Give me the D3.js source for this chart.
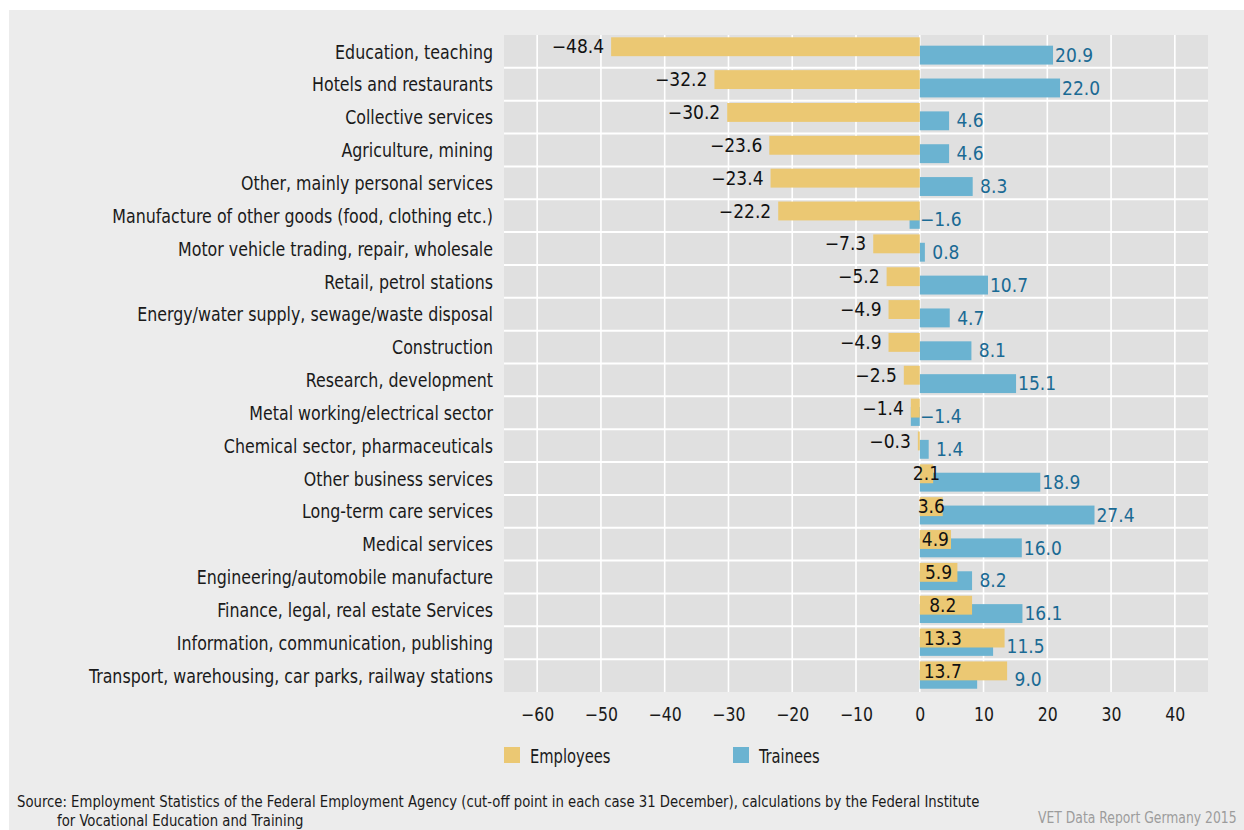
<!DOCTYPE html>
<html>
<head>
<meta charset="utf-8">
<script src="https://cdn.jsdelivr.net/npm/d3@7"></script>
<style>
  html, body { margin: 0; padding: 0; background: #ffffff; }
  svg { display: block; }
  text { font-family: "Liberation Sans Narrow", "DejaVu Sans Condensed", "Roboto Condensed", sans-serif; }
</style>
</head>
<body>
<svg id="chart" width="1244" height="830"></svg>
<script>
const categories = [
  "Education, teaching",
  "Hotels and restaurants",
  "Collective services",
  "Agriculture, mining",
  "Other, mainly personal services",
  "Manufacture of other goods (food, clothing etc.)",
  "Motor vehicle trading, repair, wholesale",
  "Retail, petrol stations",
  "Energy/water supply, sewage/waste disposal",
  "Construction",
  "Research, development",
  "Metal working/electrical sector",
  "Chemical sector, pharmaceuticals",
  "Other business services",
  "Long-term care services",
  "Medical services",
  "Engineering/automobile manufacture",
  "Finance, legal, real estate Services",
  "Information, communication, publishing",
  "Transport, warehousing, car parks, railway stations"
];
const employees = [-48.4, -32.2, -30.2, -23.6, -23.4, -22.2, -7.3, -5.2, -4.9, -4.9, -2.5, -1.4, -0.3, 2.1, 3.6, 4.9, 5.9, 8.2, 13.3, 13.7];
const trainees  = [20.9, 22.0, 4.6, 4.6, 8.3, -1.6, 0.8, 10.7, 4.7, 8.1, 15.1, -1.4, 1.4, 18.9, 27.4, 16.0, 8.2, 16.1, 11.5, 9.0];
const tickValues = [-60, -50, -40, -30, -20, -10, 0, 10, 20, 30, 40];
const seriesNames = ["Employees", "Trainees"];
const colors = ["#ebc873", "#6bb3d1"];
const sourceLines = [
  "Source: Employment Statistics of the Federal Employment Agency (cut-off point in each case 31 December), calculations by the Federal Institute",
  "for Vocational Education and Training"
];
const brand = "VET Data Report Germany 2015";

const rows = categories.map((c, i) => ({ cat: c, emp: employees[i], tra: trainees[i] }));

const svg = d3.select("#chart");
const FS = 19;

// narrow the glyphs horizontally so the text matches the condensed face of the original
function squeeze(sel, factor) {
  sel.each(function () {
    const w = this.getComputedTextLength();
    d3.select(this).attr("textLength", w * factor).attr("lengthAdjust", "spacingAndGlyphs");
  });
}

// panel background
svg.append("rect").attr("x", 9).attr("y", 10).attr("width", 1244 - 9).attr("height", 830 - 10).attr("fill", "#ececec");

const plot = { left: 504, right: 1208, top: 35, bottom: 692 };
const x = d3.scaleLinear().domain([-65.2, 45.2]).range([plot.left, plot.right]);
const y = d3.scaleBand().domain(categories).range([plot.top, plot.bottom]).paddingInner(0).paddingOuter(0);
const bw = y.bandwidth();
const barH = bw * 0.575;
const empOff = bw * 0.07;
const traOff = bw * 0.325;

svg.append("rect").attr("x", plot.left).attr("y", plot.top)
  .attr("width", plot.right - plot.left).attr("height", plot.bottom - plot.top).attr("fill", "#e0e0e0");

// vertical grid
svg.append("g").selectAll("line").data(tickValues).join("line")
  .attr("x1", d => x(d)).attr("x2", d => x(d))
  .attr("y1", plot.top).attr("y2", plot.bottom)
  .attr("stroke", "#ffffff").attr("stroke-width", 1.6);
// horizontal grid (row boundaries)
svg.append("g").selectAll("line").data(categories.slice(1)).join("line")
  .attr("x1", plot.left).attr("x2", plot.right)
  .attr("y1", d => y(d)).attr("y2", d => y(d))
  .attr("stroke", "#ffffff").attr("stroke-width", 2);

// category labels
svg.append("g").selectAll("text").data(rows).join("text")
  .attr("x", plot.left - 11).attr("y", d => y(d.cat) + bw / 2 + 0.5)
  .attr("dy", "0.35em").attr("text-anchor", "end")
  .attr("font-size", FS).attr("fill", "#1a1a1a").text(d => d.cat)
  .call(squeeze, 0.927);

// trainee bars (below)
svg.append("g").selectAll("rect").data(rows).join("rect")
  .attr("x", d => x(Math.min(0, d.tra))).attr("width", d => Math.abs(x(d.tra) - x(0)))
  .attr("y", d => y(d.cat) + traOff).attr("height", barH).attr("fill", colors[1]);
// employee bars (on top)
svg.append("g").selectAll("rect").data(rows).join("rect")
  .attr("x", d => x(Math.min(0, d.emp))).attr("width", d => Math.abs(x(d.emp) - x(0)))
  .attr("y", d => y(d.cat) + empOff).attr("height", barH).attr("fill", colors[0]);

const fmt = d3.format(".1f");
// employee labels
svg.append("g").selectAll("text").data(rows).join("text")
  .attr("x", d => d.emp < 0 ? x(d.emp) - 7 : Math.min((x(0) + x(d.emp)) / 2, x(0) + 23))
  .attr("y", d => y(d.cat) + empOff + barH / 2)
  .attr("dy", "0.35em")
  .attr("text-anchor", d => d.emp < 0 ? "end" : "middle")
  .attr("font-size", FS).attr("fill", "#111111").text(d => fmt(d.emp));
// trainee labels
svg.append("g").selectAll("text").data(rows).join("text")
  .attr("x", d => Math.max(x(0), x(d.tra), x(d.emp)) + 21)
  .attr("y", d => y(d.cat) + traOff + barH / 2)
  .attr("dy", "0.35em")
  .attr("text-anchor", "middle")
  .attr("font-size", FS).attr("fill", "#1a6a94").text(d => fmt(d.tra));

// x axis
const axis = svg.append("g").attr("transform", `translate(0,${plot.bottom})`)
  .call(d3.axisBottom(x).tickValues(tickValues).tickSize(0).tickPadding(0).tickFormat(d3.format("d")));
axis.select(".domain").remove();
axis.selectAll("text").attr("font-size", FS).attr("fill", "#1a1a1a")
  .attr("y", 29).attr("dy", "0").call(squeeze, 0.92);

// legend
const legend = svg.append("g");
const legX = [504, 733];
seriesNames.forEach((n, i) => {
  legend.append("rect").attr("x", legX[i]).attr("y", 747).attr("width", 16).attr("height", 16).attr("fill", colors[i]);
  legend.append("text").attr("x", legX[i] + 26).attr("y", 763).attr("font-size", FS).attr("fill", "#1a1a1a").text(n)
    .call(squeeze, 0.86);
});

// source
svg.append("text").attr("x", 17).attr("y", 807).attr("font-size", 16.5).attr("fill", "#1a1a1a").text(sourceLines[0])
  .call(squeeze, 0.892);
svg.append("text").attr("x", 57).attr("y", 826).attr("font-size", 16.5).attr("fill", "#1a1a1a").text(sourceLines[1])
  .call(squeeze, 0.892);
svg.append("text").attr("transform", "translate(1038,823) scale(0.835,1)")
  .attr("x", 0).attr("y", 0).attr("font-size", 16.5).attr("fill", "#9c9c9c").text(brand);
</script>
</body>
</html>
